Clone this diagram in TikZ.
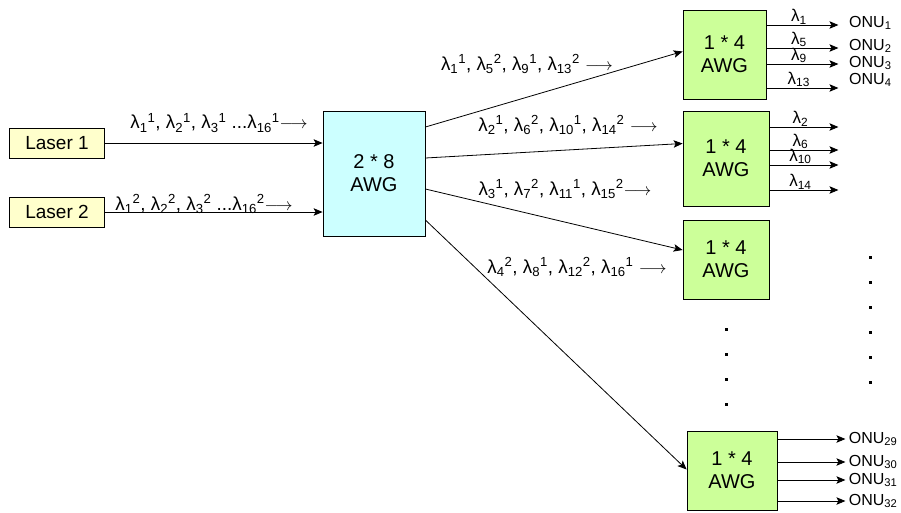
\documentclass[tikz,border=0pt]{standalone}
\usepackage{fontspec}
\setmainfont{Liberation Sans}
\usetikzlibrary{arrows.meta,positioning}

\definecolor{laserfill}{RGB}{255,255,204}
\definecolor{awgfill}{RGB}{204,255,255}
\definecolor{splitfill}{RGB}{204,255,153}

\newcommand{\wl}[2]{λ\textsubscript{#1}\textsuperscript{#2}}

\begin{document}
\begin{tikzpicture}[x=1pt,y=-1pt,
  box/.style={draw,line width=0.8pt,align=center,inner sep=0pt,font=\fontsize{20}{23}\selectfont},
  laser/.style={box,fill=laserfill,minimum width=95pt,minimum height=30pt,font=\fontsize{19}{22}\selectfont},
  bigawg/.style={box,fill=awgfill,minimum width=102pt,minimum height=125pt},
  split/.style={box,fill=splitfill},
  wave/.style={font=\fontsize{18.8}{21}\selectfont,inner sep=0pt},
  outlab/.style={font=\fontsize{17}{19}\selectfont,inner sep=0.5pt},
  onu/.style={font=\fontsize{16}{18}\selectfont,inner sep=0pt,anchor=west},
  link/.style={-{Stealth[length=9pt,width=7.5pt,inset=2pt]},line width=0.8pt}]
  \useasboundingbox (0,0) rectangle (901,512);

  \node[laser] (laser1) at (57,143) {Laser 1};
  \node[laser] (laser2) at (57,212) {Laser 2};
  \node[bigawg] (awg) at (374,173.5) {2 * 8\\AWG};

  \node[split,minimum width=83pt,minimum height=89pt] (a1) at (724.5,54.5) {1 * 4\\AWG};
  \node[split,minimum width=86pt,minimum height=95pt] (a2) at (726,158.5) {1 * 4\\AWG};
  \node[split,minimum width=86pt,minimum height=79pt] (a3) at (726,259.5) {1 * 4\\AWG};
  \node[split,minimum width=90pt,minimum height=79pt] (a4) at (732,470.5) {1 * 4\\AWG};

  % lasers into the 2*8 AWG
  \draw[link] (laser1) -- (awg.west |- laser1);
  \draw[link] (laser2) -- (awg.west |- laser2);
  \node[wave] (in1) at (219,123) {\wl{1}{1}, \wl{2}{1}, \wl{3}{1} ...\wl{16}{1}$\longrightarrow$};
  \node[wave] (in2) at (204,204) {\wl{1}{2}, \wl{2}{2}, \wl{3}{2} ...\wl{16}{2}$\longrightarrow$};

  % 2*8 AWG to the 1*4 AWGs
  \draw[link] ([yshift=46.5pt]awg.east) -- ([yshift=3pt]a1.west);
  \draw[link] ([yshift=15.5pt]awg.east) -- ([yshift=15pt]a2.west);
  \draw[link] ([yshift=-15.5pt]awg.east) -- ([yshift=9.5pt]a3.west);
  \draw[link] ([yshift=-46.5pt]awg.east) -- ([yshift=1pt]a4.west);
  \node[wave] (w1) at (527,64) {\wl{1}{1}, \wl{5}{2}, \wl{9}{1}, \wl{13}{2} $\longrightarrow$};
  \node[wave] (w2) at (568,125) {\wl{2}{1}, \wl{6}{2}, \wl{10}{1}, \wl{14}{2} $\longrightarrow$};
  \node[wave] (w3) at (565,189) {\wl{3}{1}, \wl{7}{2}, \wl{11}{1}, \wl{15}{2}$\longrightarrow$};
  \node[wave] (w4) at (577,267) {\wl{4}{2}, \wl{8}{1}, \wl{12}{2}, \wl{16}{1} $\longrightarrow$};

  % outputs
  \foreach \dy/\k in {29.5/1,6.5/5,-9.5/9,-33.5/13}
    \draw[link] ([yshift=\dy pt]a1.east) -- ++(72,0) node[outlab,pos=0.45,above] {λ\textsubscript{\k}};
  \foreach \dy/\k in {31.5/2,8.5/6,-6.5/10,-31.5/14}
    \draw[link] ([yshift=\dy pt]a2.east) -- ++(69,0) node[outlab,pos=0.45,above] {λ\textsubscript{\k}};
  \foreach \dy/\k in {31.5/29,8.5/30,-9.5/31,-30.5/32}
    \draw[link] ([yshift=\dy pt]a4.east) -- ++(68,0) node[onu,right=3pt] (onu\k) {ONU\textsubscript{\k}};

  \node[onu] (onu1) at (849,23) {ONU\textsubscript{1}};
  \node[onu] (onu2) at (849,46) {ONU\textsubscript{2}};
  \node[onu] (onu3) at (849,63) {ONU\textsubscript{3}};
  \node[onu] (onu4) at (849,80) {ONU\textsubscript{4}};

  % dots
  \foreach \y in {328,353,378,403}
    \fill (724.5,\y) rectangle ++(3,3);
  \foreach \y in {256,281,306,331,356,381}
    \fill (868.5,\y) rectangle ++(3,3);
\end{tikzpicture}
\end{document}
